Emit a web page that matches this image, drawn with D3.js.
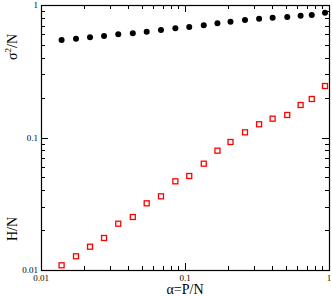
<!DOCTYPE html>
<html>
<head>
<meta charset="utf-8">
<script src="https://cdn.jsdelivr.net/npm/d3@7"></script>
<style>
    body { margin: 0; background: #fff; }
    svg { display: block; }
    text { font-family: "Liberation Serif", "DejaVu Serif", serif; fill: #000; }
</style>
</head>
<body>
<div id="chart"></div>
<script>
// 数据
const alpha = [0.0139, 0.0175, 0.0219, 0.0274, 0.0344, 0.0434, 0.0542, 0.0681, 0.0857, 0.107,
               0.135, 0.168, 0.207, 0.261, 0.327, 0.406, 0.513, 0.635, 0.759, 0.938];
const sigma = [0.544, 0.557, 0.570, 0.583, 0.601, 0.611, 0.629, 0.647, 0.667, 0.683,
               0.703, 0.728, 0.748, 0.771, 0.789, 0.802, 0.811, 0.830, 0.841, 0.875];
const entropy = [0.01085, 0.01269, 0.01499, 0.01744, 0.02236, 0.02512, 0.03187, 0.03599, 0.04671, 0.05122,
                 0.06343, 0.07953, 0.09247, 0.1094, 0.1258, 0.1387, 0.1479, 0.1759, 0.1953, 0.2447];
const majorTicks = [0.01, 0.1, 1];
const tickLabels = ['0.01', '0.1', '1'];

(function() {
    const width = 332;
    const height = 296;
    const margin = { top: 5, right: 3, bottom: 26, left: 41 };
    const w = width - margin.left - margin.right;
    const h = height - margin.top - margin.bottom;

    const svg = d3.select('#chart').append('svg')
        .attr('width', width)
        .attr('height', height);

    const g = svg.append('g')
        .attr('transform', `translate(${margin.left},${margin.top})`);

    const x = d3.scaleLog().domain([0.01, 1]).range([0, w]);
    const y = d3.scaleLog().domain([0.01, 1]).range([h, 0]);

    const isMajor = v => majorTicks.some(m => Math.abs(m - v) / m < 1e-6);
    const majorLen = 7, minorLen = 4;

    // 刻度 (四边都向内)
    const ticks = g.append('g').attr('stroke', '#000').attr('stroke-width', 1);
    x.ticks().forEach(v => {
        const px = Math.round(x(v)) + 0.5;
        const len = isMajor(v) ? majorLen : minorLen;
        ticks.append('line').attr('x1', px).attr('x2', px).attr('y1', h).attr('y2', h - len);
        ticks.append('line').attr('x1', px).attr('x2', px).attr('y1', 0).attr('y2', len);
    });
    y.ticks().forEach(v => {
        const py = Math.round(y(v)) + 0.5;
        const len = isMajor(v) ? majorLen : minorLen;
        ticks.append('line').attr('y1', py).attr('y2', py).attr('x1', 0).attr('x2', len);
        ticks.append('line').attr('y1', py).attr('y2', py).attr('x1', w).attr('x2', w - len);
    });

    // 边框
    g.append('rect')
        .attr('x', 0.5).attr('y', 0.5)
        .attr('width', w).attr('height', h)
        .attr('fill', 'none')
        .attr('stroke', '#000')
        .attr('stroke-width', 1.2);

    // 刻度标签
    g.append('g').selectAll('text')
        .data(majorTicks)
        .enter().append('text')
        .attr('x', d => x(d))
        .attr('y', h + 11)
        .attr('text-anchor', 'middle')
        .attr('font-size', 9)
        .text((d, i) => tickLabels[i]);

    g.append('g').selectAll('text')
        .data(majorTicks)
        .enter().append('text')
        .attr('x', -3)
        .attr('y', d => y(d))
        .attr('dy', '0.35em')
        .attr('text-anchor', 'end')
        .attr('font-size', 9)
        .text((d, i) => tickLabels[i]);

    // 轴标题
    svg.append('text')
        .attr('x', margin.left + w / 2)
        .attr('y', 294)
        .attr('text-anchor', 'middle')
        .attr('font-size', 14)
        .text('α=P/N');

    const sigLabel = svg.append('text')
        .attr('transform', 'translate(17,47) rotate(-90)')
        .attr('text-anchor', 'middle')
        .attr('font-size', 14);
    sigLabel.append('tspan').text('σ');
    sigLabel.append('tspan').attr('font-size', 9).attr('dy', -6).text('2');
    sigLabel.append('tspan').attr('dy', 6).text('/N');

    svg.append('text')
        .attr('transform', 'translate(17,229) rotate(-90)')
        .attr('text-anchor', 'middle')
        .attr('font-size', 14)
        .text('H/N');

    // σ²/N 黑色实心圆
    g.append('g').selectAll('circle')
        .data(alpha.map((a, i) => [a, sigma[i]]))
        .enter().append('circle')
        .attr('cx', d => x(d[0]))
        .attr('cy', d => y(d[1]))
        .attr('r', 3)
        .attr('fill', '#000');

    // H/N 红色空心方块
    const s = 5;
    g.append('g').selectAll('rect')
        .data(alpha.map((a, i) => [a, entropy[i]]))
        .enter().append('rect')
        .attr('x', d => x(d[0]) - s / 2)
        .attr('y', d => y(d[1]) - s / 2)
        .attr('width', s)
        .attr('height', s)
        .attr('fill', 'none')
        .attr('stroke', '#ff0000')
        .attr('stroke-width', 1.3);
})();
</script>
</body>
</html>
